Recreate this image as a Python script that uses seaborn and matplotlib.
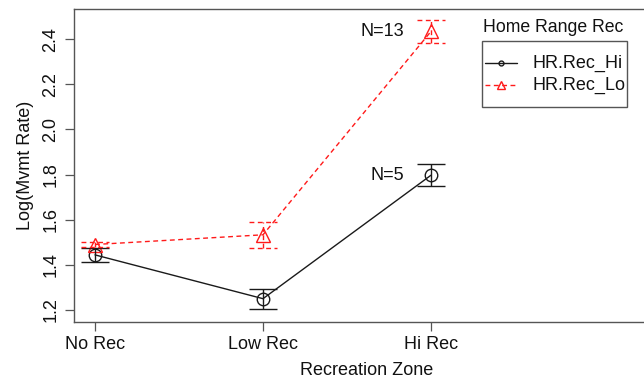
import numpy as np
import pandas as pd
import matplotlib
matplotlib.use("Agg")
import matplotlib.pyplot as plt
from matplotlib.lines import Line2D
from matplotlib.patches import Rectangle
from matplotlib.transforms import Bbox, TransformedBbox
import seaborn as sns

# Mean log movement rate (± SE) by recreation zone and home-range recreation level
zones = ["No Rec", "Low Rec", "Hi Rec"]
groups = ["HR.Rec_Hi", "HR.Rec_Lo"]
hi_mean = [1.444, 1.250, 1.797]
hi_se = [0.031, 0.045, 0.049]
lo_mean = [1.490, 1.533, 2.434]
lo_se = [0.013, 0.057, 0.050]
n_labels = ["N=5", "N=13"]

sns.set_theme(style="white")
plt.rcParams["font.family"] = ["Liberation Sans", "DejaVu Sans"]

W, H = 644, 381
fig = plt.figure(figsize=(W / 100, H / 100), dpi=100)

# axes box in pixel terms; the right edge runs past the figure
left_px, right_px, top_px, bot_px = 74, 660, 9.3, 321.7
ax = fig.add_axes([left_px / W, 1 - bot_px / H,
                   (right_px - left_px) / W, (bot_px - top_px) / H])

pos = np.arange(len(zones))
df = pd.DataFrame({
    "pos": np.concatenate([pos, pos]),
    "mean": hi_mean + lo_mean,
    "se": hi_se + lo_se,
    "group": [groups[0]] * len(zones) + [groups[1]] * len(zones),
})

colors = {groups[0]: "#1a1a1a", groups[1]: "#ff1a1a"}
sns.lineplot(data=df, x="pos", y="mean", hue="group", style="group",
             hue_order=groups, style_order=groups, palette=colors,
             markers={groups[0]: "o", groups[1]: "^"},
             dashes={groups[0]: (None, None), groups[1]: (3.5, 2.5)},
             linewidth=1.0, legend=False, ax=ax)

for line in ax.lines:
    c = line.get_color()
    line.set_markerfacecolor("none")
    line.set_markeredgecolor(c)
    line.set_markeredgewidth(1.0)
    line.set_markersize(9 if line.get_marker() == "o" else 10)

# error bars with caps, drawn in the same style as each series
cap = 0.085
for g, ls in zip(groups, ["-", (0, (3.5, 2.5))]):
    sub = df[df["group"] == g]
    lo = sub["mean"] - sub["se"]
    hi = sub["mean"] + sub["se"]
    ax.vlines(sub["pos"], lo, hi, colors=colors[g], linestyles=ls, lw=1.0)
    ax.hlines(lo, sub["pos"] - cap, sub["pos"] + cap, colors=colors[g], linestyles=ls, lw=1.0)
    ax.hlines(hi, sub["pos"] - cap, sub["pos"] + cap, colors=colors[g], linestyles=ls, lw=1.0)

# sample sizes beside the last zone
for lab, m in zip(n_labels, [hi_mean[-1], lo_mean[-1]]):
    ax.text(pos[-1] - 0.16, m, lab, ha="right", va="center", fontsize=13, color="#111111")

ax.set_xlim((left_px - 95) / 168, (right_px - 95) / 168)
ax.set_ylim(1.2 - (bot_px - 310) / 45 * 0.2, 2.4 + (39 - top_px) / 45 * 0.2)
ax.set_xticks(pos)
ax.set_xticklabels(zones)
yt = [1.2, 1.4, 1.6, 1.8, 2.0, 2.2, 2.4]
ax.set_yticks(yt)
ax.set_yticklabels([f"{v:.1f}" for v in yt], rotation=90, va="center")
ax.set_xlabel("Recreation Zone", fontsize=13, labelpad=6, color="#111111")
ax.set_ylabel("Log(Mvmt Rate)", fontsize=13, labelpad=6, color="#111111")
ax.tick_params(axis="both", which="both", direction="out", length=6.5, width=0.9,
               color="#555555", labelsize=13, labelcolor="#111111", pad=4,
               left=True, bottom=True)
for side in ["left", "bottom", "top"]:
    ax.spines[side].set_color("#555555")
    ax.spines[side].set_linewidth(1.0)
ax.spines["right"].set_visible(False)

# legend, laid out in figure pixels
def fx(x):
    return x / W

def fy(y):
    return 1 - y / H

fig.text(fx(483), fy(28), "Home Range Rec", ha="left", va="center",
         fontsize=12.7, color="#111111")
box = Rectangle((fx(482), fy(106.5)), fx(627) - fx(482), fy(40.5) - fy(106.5),
                transform=fig.transFigure, fill=False, edgecolor="#555555", lw=1.0)
fig.add_artist(box)
clip = TransformedBbox(Bbox([[fx(482), fy(106.5)], [fx(627), fy(40.5)]]), fig.transFigure)
for g, yrow, mk, ms, ls in zip(groups, [63, 85], ["o", "^"], [3.5, 5.5], ["-", (0, (3.5, 2.5))]):
    fig.add_artist(Line2D([fx(485), fx(517)], [fy(yrow), fy(yrow)], transform=fig.transFigure,
                          color=colors[g], lw=1.0, linestyle=ls, marker=None))
    fig.add_artist(Line2D([fx(501)], [fy(yrow)], transform=fig.transFigure,
                          color=colors[g], marker=mk, markersize=ms,
                          markerfacecolor="none", markeredgewidth=1.0, linestyle="none"))
    t = fig.text(fx(533), fy(yrow), g, ha="left", va="center", fontsize=13, color="#111111")
    t.set_clip_box(clip)
    t.set_clip_on(True)

fig.savefig("out.png", dpi=100)
